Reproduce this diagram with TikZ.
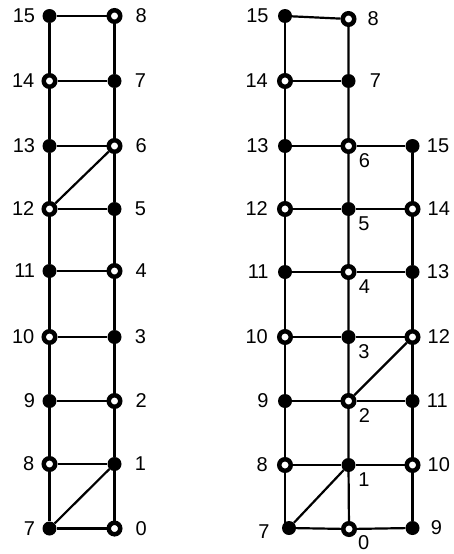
\documentclass[tikz,border=0pt]{standalone}
\usepackage{fontspec}
\setmainfont{Liberation Sans}
\usepackage{tikz}
\usetikzlibrary{positioning}

\begin{document}
\begin{tikzpicture}[
  x=1pt, y=-1pt,
  blk/.style={circle, fill=black, inner sep=0pt, minimum size=14pt},
  wht/.style={circle, draw=black, fill=white, line width=4.5pt,
              inner sep=0pt, minimum size=11.5pt},
  edge/.style={line width=2.2pt, draw=black},
  lbl/.style={font=\fontsize{20}{20}\selectfont, inner sep=0pt},
  lft/.style={label={[lbl, label distance=7pt]left:#1}},
  lftb/.style={label={[lbl, label distance=9pt]left:#1}},
  rgt/.style={label={[lbl, label distance=13pt]right:#1}},
  rgtb/.style={label={[lbl, label distance=7pt]right:#1}},
  brt/.style={label={[lbl, label distance=3pt, xshift=2.5pt]-45:#1}}
]
\useasboundingbox (0,0) rectangle (454,554);

% left ladder
\node[blk, lft=15] (la15) at (49.5, 16)  {};
\node[wht, lft=14] (la14) at (49.5, 81)  {};
\node[blk, lft=13] (la13) at (49.5, 146) {};
\node[wht, lft=12] (la12) at (49.5, 209) {};
\node[blk, lft=11] (la11) at (49.5, 271) {};
\node[wht, lft=10] (la10) at (49.5, 337) {};
\node[blk, lft=9]  (la9)  at (49.5, 401) {};
\node[wht, lft=8]  (la8)  at (49.5, 464) {};
\node[blk, lft=7]  (la7)  at (49.5, 528.5) {};

\node[wht, rgt=8] (ra8) at (114.5, 16)  {};
\node[blk, rgt=7] (ra7) at (114.5, 81)  {};
\node[wht, rgt=6] (ra6) at (114.5, 146) {};
\node[blk, rgt=5] (ra5) at (114.5, 209) {};
\node[wht, rgt=4] (ra4) at (114.5, 271) {};
\node[blk, rgt=3] (ra3) at (114.5, 337) {};
\node[wht, rgt=2] (ra2) at (114.5, 401) {};
\node[blk, rgt=1] (ra1) at (114.5, 464) {};
\node[wht, rgt=0] (ra0) at (114.5, 528.5) {};

\draw[edge] (la15) -- (la14) -- (la13) -- (la12) -- (la11)
            -- (la10) -- (la9) -- (la8) -- (la7);
\draw[edge] (ra8) -- (ra7) -- (ra6) -- (ra5) -- (ra4)
            -- (ra3) -- (ra2) -- (ra1) -- (ra0);
\draw[edge] (la15) -- (ra8);
\draw[edge] (la14) -- (ra7);
\draw[edge] (la13) -- (ra6);
\draw[edge] (la12) -- (ra5);
\draw[edge] (la11) -- (ra4);
\draw[edge] (la10) -- (ra3);
\draw[edge] (la9)  -- (ra2);
\draw[edge] (la8)  -- (ra1);
\draw[edge] (la7)  -- (ra0);
\draw[edge] (la12) -- (ra6);
\draw[edge] (la7)  -- (ra1);

% right ladder
\node[blk, lftb=15] (lb15) at (285, 16)  {};
\node[wht, lftb=14] (lb14) at (285, 81)  {};
\node[blk, lftb=13] (lb13) at (285, 146) {};
\node[wht, lftb=12] (lb12) at (285, 209) {};
\node[blk, lftb=11] (lb11) at (285, 272) {};
\node[wht, lftb=10] (lb10) at (285, 337) {};
\node[blk, lftb=9]  (lb9)  at (285, 401) {};
\node[wht, lftb=8]  (lb8)  at (285, 465) {};
\node[blk, label={[lbl, label distance=12pt, yshift=-4pt]left:7}]
      (lb7) at (289, 528) {};

\node[wht, label={[lbl, label distance=11pt]right:8}] (mb8) at (348.5, 19) {};
\node[blk, label={[lbl, label distance=14pt]right:7}] (mb7) at (348.5, 81) {};
\node[wht, brt=6] (mb6) at (348.5, 146) {};
\node[blk, brt=5] (mb5) at (348.5, 209) {};
\node[wht, brt=4] (mb4) at (348.5, 272) {};
\node[blk, brt=3] (mb3) at (348.5, 337) {};
\node[wht, brt=2] (mb2) at (348.5, 401) {};
\node[blk, brt=1] (mb1) at (348.5, 465) {};
\node[wht, label={[lbl, label distance=1pt, xshift=2.5pt]-45:0}]
      (mb0) at (349, 529) {};

\node[blk, rgtb=15] (rb15) at (412.5, 146) {};
\node[wht, rgtb=14] (rb14) at (412.5, 209) {};
\node[blk, rgtb=13] (rb13) at (412.5, 272) {};
\node[wht, rgtb=12] (rb12) at (412.5, 337) {};
\node[blk, rgtb=11] (rb11) at (412.5, 401) {};
\node[wht, rgtb=10] (rb10) at (412.5, 465) {};
\node[blk, label={[lbl, label distance=11pt]right:9}] (rb9) at (412.5, 528) {};

\draw[edge] (lb15) -- (lb14) -- (lb13) -- (lb12) -- (lb11)
            -- (lb10) -- (lb9) -- (lb8) -- (lb8 |- lb7);
\draw[edge] (mb8) -- (mb7) -- (mb6) -- (mb5) -- (mb4)
            -- (mb3) -- (mb2) -- (mb1) -- (mb0);
\draw[edge] (rb15) -- (rb14) -- (rb13) -- (rb12) -- (rb11)
            -- (rb10) -- (rb9);
\draw[edge] (lb15) -- (mb8);
\draw[edge] (lb14) -- (mb7);
\draw[edge] (lb13) -- (mb6) -- (rb15);
\draw[edge] (lb12) -- (mb5) -- (rb14);
\draw[edge] (lb11) -- (mb4) -- (rb13);
\draw[edge] (lb10) -- (mb3) -- (rb12);
\draw[edge] (lb9)  -- (mb2) -- (rb11);
\draw[edge] (lb8)  -- (mb1) -- (rb10);
\draw[edge] (lb7)  -- (mb0) -- (rb9);
\draw[edge] (lb7)  -- (mb1);
\draw[edge] (mb2)  -- (rb12);

\end{tikzpicture}
\end{document}
